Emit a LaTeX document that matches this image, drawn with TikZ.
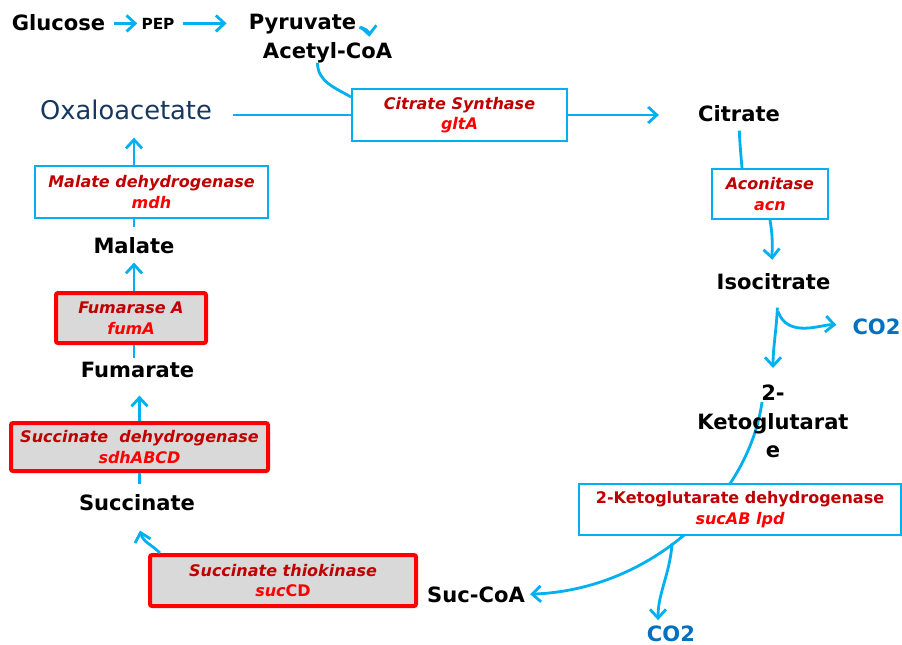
\documentclass[tikz,border=0pt]{standalone}
\usepackage{fontspec}
\setmainfont{DejaVu Sans}
\usepackage{tikz}
\usetikzlibrary{calc,arrows.meta,backgrounds}
\definecolor{cyanln}{RGB}{0,176,240}
\definecolor{enzred}{RGB}{192,0,0}
\definecolor{genred}{RGB}{255,0,0}
\definecolor{co2c}{RGB}{0,112,192}
\definecolor{oaac}{RGB}{23,55,94}
\definecolor{boxgray}{RGB}{217,217,217}
\begin{document}
\begin{tikzpicture}[
    x=0.75pt, y=0.75pt,
    met/.style={inner sep=0pt,anchor=base,font=\fontsize{15.8}{21.4}\selectfont\bfseries},
    enz/.style 2 args={rectangle,draw=cyanln,fill=white,line width=1.5pt,
                      minimum width=#1*0.75pt,minimum height=#2*0.75pt,inner sep=0pt,
                      align=center,font=\fontsize{12}{15.5}\selectfont\bfseries\itshape,text=enzred},
    kobox/.style={draw=red,fill=boxgray,line width=3pt,rounded corners=1.5pt},
    arr/.style={-{Straight Barb[length=6.5pt,width=12pt]},cyanln,line width=2.1pt},
    ln/.style={cyanln,line width=2.1pt}
  ]
  \useasboundingbox (0,0) rectangle (902,-644);
  % metabolites
  \node[met] (glc) at (58.5,-30) {Glucose};
  \node[met,font=\fontsize{11.5}{14}\selectfont\bfseries] (pep) at (158,-29) {PEP};
  \node[met] (pyr) at (302.5,-29) {Pyruvate};
  \node[met] (acoa) at (327.5,-58) {Acetyl-CoA};
  \node[inner sep=0pt,anchor=base,font=\fontsize{19.3}{23}\selectfont,text=oaac] (oaa) at (126,-119) {Oxaloacetate};
  \node[met] (cit) at (739,-121) {Citrate};
  \node[met] (icit) at (773.5,-289) {Isocitrate};
  \node[met,text=co2c] (co2a) at (876.5,-334) {CO2};
  \node[met,anchor=north,align=center] (akg) at (773,-385) {2-\\Ketoglutarat\\e};
  \node[met,text=co2c] (co2b) at (671,-641) {CO2};
  \node[met] (succoa) at (476,-602) {Suc-CoA};
  \node[met] (suc) at (137,-510) {Succinate};
  \node[met] (fum) at (137.5,-377) {Fumarate};
  \node[met] (mal) at (134,-253) {Malate};
  % enzymes
  \node[enz={215}{52}] (cs) at (459.5,-115) {Citrate Synthase\\{\color{genred}gltA}};
  \node[enz={116}{50}] (acn) at (770,-194) {Aconitase\\{\color{genred}acn}};
  \node[enz={322}{51},font=\fontsize{12}{15.5}\selectfont\bfseries] (kgdh) at (740,-509.5)
       {2-Ketoglutarate dehydrogenase\\{\color{genred}\itshape sucAB lpd}};
  \node[enz={266}{51},kobox] (sct) at (283,-580.5) {Succinate thiokinase\\{\color{genred}suc\upshape CD}};
  \node[enz={257}{48},kobox] (sdh) at (139.5,-447) {Succinate\ \ dehydrogenase\\{\color{genred}sdhABCD}};
  \node[enz={150}{50},kobox] (fuma) at (131,-318) {Fumarase A\\{\color{genred}fumA}};
  \node[enz={233}{52}] (mdh) at (151.5,-192) {Malate dehydrogenase\\{\color{genred}mdh}};
  % connectors
  \draw[arr,shorten <=6.75pt,shorten >=3pt] (pep.west -| glc.east) -- (pep.west);
  \draw[arr,shorten <=6pt,shorten >=16.5pt] (pep.east) -- (pep.east -| pyr.west);
  \draw[arr] ([shift={(3,-4)}]pyr.east) to[out=0,in=95] ([shift={(-23,5)}]acoa.north east);
  \draw[ln] ([shift={(-10,0)}]acoa.south) to[out=-90,in=150] ([shift={(0,-9)}]cs.north west);
  \draw[ln,shorten <=15.75pt] (cs.west -| oaa.east) -- (cs.west);
  \draw[arr,shorten >=29.25pt] (cs.east) -- (cs.east -| cit.west);
  \draw[ln,shorten <=6.75pt] (cit.south) to[out=-88,in=95] ([shift={(31,0)}]acn.north west);
  \draw[arr,shorten >=9.75pt] (acn.south) to[out=-80,in=95] (icit.north);
  \draw[arr,shorten <=13.5pt,shorten >=12.75pt] ([shift={(4.5,0)}]icit.south) to[out=-92,in=90] (akg.north);
  \draw[arr,shorten >=12pt] ([shift={(4.5,-22)}]icit.south) to[out=-70,in=175] (co2a.west);
  \begin{scope}[on background layer]
    \draw[arr,shorten >=3.75pt] ([shift={(-11,-17)}]akg.north)
      .. controls (748,-500) and (650,-590) .. coordinate[pos=0.55] (kgbr) (succoa.east);
  \end{scope}
  \draw[arr,shorten >=3.75pt] (kgbr) to[out=-95,in=90] ([shift={(-13,0)}]co2b.north);
  \draw[arr] ([shift={(12,0)}]sct.north west) to[out=135,in=-75] ([shift={(3,-20)}]suc.south);
  \draw[ln,shorten <=7.5pt] (sdh.south |- suc.north) -- (sdh.south);
  \draw[arr,shorten >=13.5pt] (sdh.north) -- (sdh.north |- fum.south);
  \draw[ln,shorten <=2.25pt] (fum.north -| mal) -- (fuma.south -| mal);
  \draw[arr,shorten >=6.75pt] (fuma.north -| mal) -- (mal.south);
  \draw[ln,shorten <=7.5pt] (mal.north) -- (mdh.south -| mal);
  \draw[arr,shorten >=13.5pt] (mdh.north -| mal) -- (oaa.south -| mal);
\end{tikzpicture}
\end{document}
